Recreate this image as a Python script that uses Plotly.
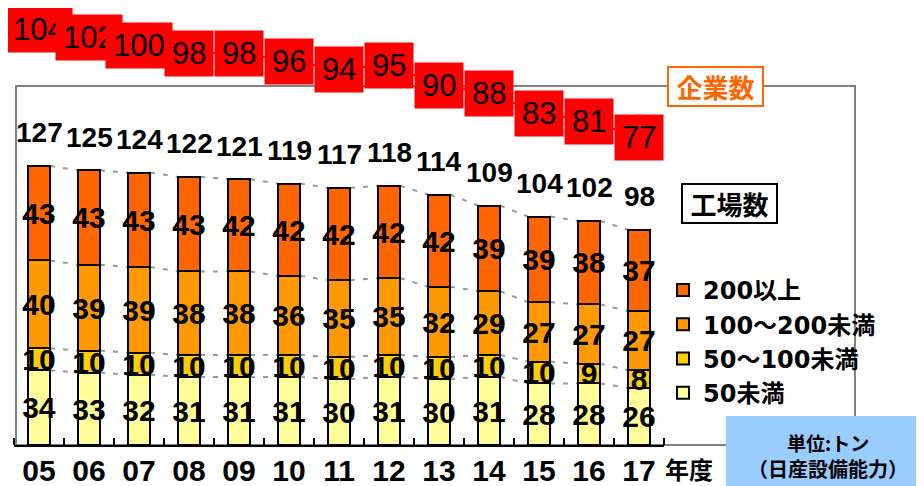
import plotly.graph_objects as go

# ---- data ----
years = ["05", "06", "07", "08", "09", "10", "11", "12", "13", "14", "15", "16", "17"]
under50 = [34, 33, 32, 31, 31, 31, 30, 31, 30, 31, 28, 28, 26]
from50to100 = [10, 10, 10, 10, 10, 10, 10, 10, 10, 10, 10, 9, 8]
from100to200 = [40, 39, 39, 38, 38, 36, 35, 35, 32, 29, 27, 27, 27]
over200 = [43, 43, 43, 43, 42, 42, 42, 42, 42, 39, 39, 38, 37]
plants_total = [127, 125, 124, 122, 121, 119, 117, 118, 114, 109, 104, 102, 98]
companies = [104, 102, 100, 98, 98, 96, 94, 95, 90, 88, 83, 81, 77]

series_names = ["50未満", "50～100未満", "100～200未満", "200以上"]
series_colors = ["#FFFF99", "#FFCC00", "#FF9900", "#FF6600"]

# ---- layout constants (page has an 8px body margin) ----
OFF = 8
W, H = 924 - OFF, 486 - OFF
PLOT_L, PLOT_R = 14 - OFF, 664 - OFF          # x-axis extent in figure px
PLOT_BOTTOM = 445 - OFF                        # x-axis line in figure px
BAR_TOP = 86 - OFF                             # top of frame in figure px
ML, MR, MT, MB = PLOT_L, W - PLOT_R, 0, H - PLOT_BOTTOM
PW, PH = PLOT_R - PLOT_L, PLOT_BOTTOM
BAR_DOMAIN_TOP = (PLOT_BOTTOM - BAR_TOP) / PH
BAR_W = 0.44
Y_MAX = 163.4
Y3_MAX = PH / 4.0
NUM_FONT = "Liberation Sans, Arial, sans-serif"
JP_FONT = "Noto Sans CJK JP, sans-serif"
LEG_FONT = "DejaVu Sans, Noto Sans CJK JP, sans-serif"


def px_x(p):
    """reference-pixel x -> paper x"""
    return (p - OFF - ML) / PW


def px_y(p):
    """reference-pixel y -> paper y"""
    return (PLOT_BOTTOM - (p - OFF)) / PH


xs = list(range(len(years)))
fig = go.Figure()

# dashed series lines (main axis, drawn beneath bars)
series = [under50, from50to100, from100to200, over200]
cum = []
run = [0] * len(years)
for s in series:
    run = [a + b for a, b in zip(run, s)]
    cum.append(run)
for level in cum:
    lx, ly = [], []
    for i in range(len(years) - 1):
        lx += [xs[i] + BAR_W / 2, xs[i + 1] - BAR_W / 2, None]
        ly += [level[i], level[i + 1], None]
    fig.add_trace(go.Scatter(x=lx, y=ly, mode="lines", yaxis="y",
                             line=dict(color="#9a9a9a", width=2, dash="5px,8px"),
                             showlegend=False, hoverinfo="skip"))

# stacked bars
for name, vals, col in zip(series_names, series, series_colors):
    fig.add_trace(go.Bar(
        x=xs, y=vals, name=name, yaxis="y2", width=BAR_W,
        marker=dict(color=col, line=dict(color="black", width=2)),
        text=[str(v) for v in vals], textposition="inside",
        insidetextanchor="middle", textangle=0, constraintext="none",
        textfont=dict(family=NUM_FONT, size=30, color="black", weight="bold"),
    ))

# company count line
fig.add_trace(go.Scatter(x=xs, y=companies, mode="lines", yaxis="y3",
                         line=dict(color="#FF0000", width=2),
                         showlegend=False, hoverinfo="skip"))

annotations = []
# totals above bars
for x, t in zip(xs, plants_total):
    annotations.append(dict(x=x, y=t, xref="x", yref="y2", text=str(t),
                            showarrow=False, yanchor="middle", yshift=33,
                            font=dict(family=NUM_FONT, size=28, color="black",
                                      weight="bold")))
# company boxes
for x, c in zip(xs, companies):
    annotations.append(dict(x=x, y=c, xref="x", yref="y3", text=str(c),
                            showarrow=False, xanchor="center", yanchor="middle",
                            bgcolor="#FF0000", borderpad=7, height=31,
                            font=dict(family=NUM_FONT, size=31, color="black")))

# labels
annotations.append(dict(x=px_x(715.5), y=px_y(86.5), xref="paper", yref="paper",
                        text="<b>企業数</b>", showarrow=False,
                        xanchor="center", yanchor="middle",
                        bordercolor="#FF6600", borderwidth=2, borderpad=3,
                        bgcolor="white", width=87, height=31,
                        font=dict(family=JP_FONT, size=26, color="#FF6600")))
annotations.append(dict(x=px_x(729.5), y=px_y(203.5), xref="paper", yref="paper",
                        text="<b>工場数</b>", showarrow=False,
                        xanchor="center", yanchor="middle",
                        bordercolor="black", borderwidth=2, borderpad=3,
                        bgcolor="white", width=87, height=31,
                        font=dict(family=JP_FONT, size=26, color="black")))
annotations.append(dict(x=px_x(828), y=px_y(442), xref="paper", yref="paper",
                        text="<b>単位:トン</b>", showarrow=False,
                        xanchor="center", yanchor="middle",
                        font=dict(family=JP_FONT, size=19, color="black")))
annotations.append(dict(x=px_x(828), y=px_y(468), xref="paper", yref="paper",
                        text="<b>（日産設備能力）</b>", showarrow=False,
                        xanchor="center", yanchor="middle",
                        font=dict(family=JP_FONT, size=20, color="black")))
annotations.append(dict(x=px_x(663), y=px_y(468), xref="paper", yref="paper",
                        text="<b>年度</b>", showarrow=False, xanchor="left",
                        yanchor="middle",
                        font=dict(family=JP_FONT, size=24, color="black")))

shapes = [
    dict(type="rect", xref="paper", yref="paper",
         x0=px_x(16), x1=px_x(855), y0=0, y1=BAR_DOMAIN_TOP,
         line=dict(color="#808080", width=2), layer="below"),
    dict(type="rect", xref="paper", yref="paper",
         x0=px_x(726), x1=px_x(930), y0=px_y(492), y1=px_y(416),
         fillcolor="#99CCFF", line=dict(width=0), layer="above"),
]

fig.update_layout(
    width=W, height=H,
    margin=dict(l=ML, r=MR, t=MT, b=MB, pad=0, autoexpand=False),
    paper_bgcolor="white", plot_bgcolor="rgba(0,0,0,0)",
    barmode="stack", bargap=0,
    showlegend=True,
    legend=dict(x=px_x(663), y=px_y(268), xanchor="left", yanchor="top",
                traceorder="reversed", bgcolor="rgba(0,0,0,0)",
                font=dict(family=LEG_FONT, size=24, color="black", weight="bold"),
                itemwidth=30, tracegroupgap=0),
    xaxis=dict(range=[-0.5, len(years) - 0.5], tickmode="array", tickvals=xs,
               ticktext=years, showline=True, linecolor="black", linewidth=2,
               ticks="", showgrid=False, zeroline=False, anchor="y",
               tickfont=dict(family=NUM_FONT, size=30, color="black", weight="bold"),
               ticklabelstandoff=-2,
               minor=dict(tickmode="linear", tick0=-0.5, dtick=1, ticks="inside",
                          ticklen=7, tickwidth=2, tickcolor="black", showgrid=False)),
    yaxis=dict(range=[0, Y_MAX], domain=[0, BAR_DOMAIN_TOP], visible=False),
    yaxis2=dict(range=[0, Y_MAX], visible=False, overlaying="y"),
    yaxis3=dict(range=[0, Y3_MAX], domain=[0, 1], visible=False, anchor="x"),
    annotations=annotations,
    shapes=shapes,
)

fig.write_html("out.html")
